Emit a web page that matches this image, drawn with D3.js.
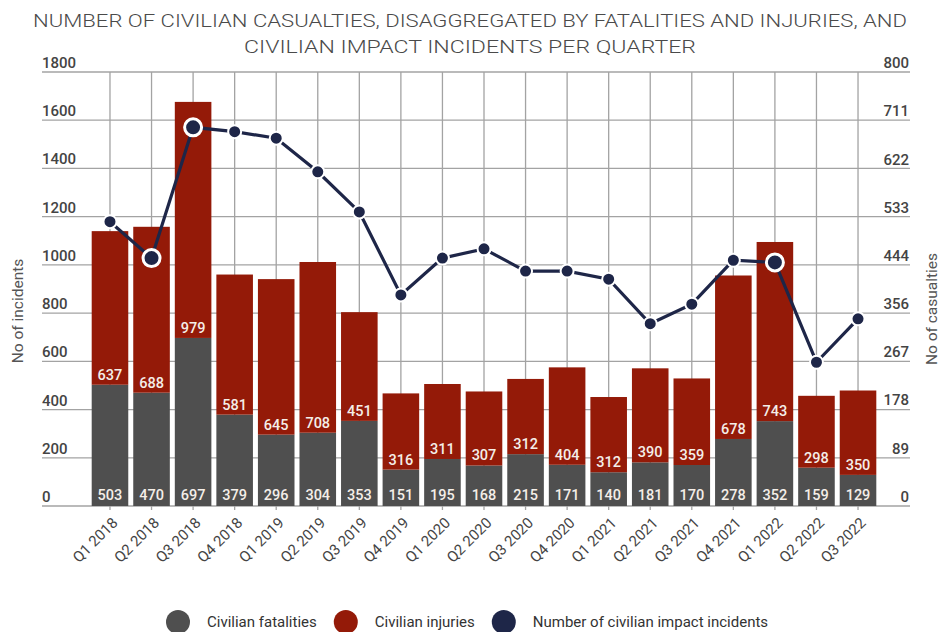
<!DOCTYPE html>
<html><head><meta charset="utf-8">
<script src="https://cdn.jsdelivr.net/npm/d3@7"></script>
<style>body{margin:0;background:#fff}svg{display:block}</style>
</head><body><svg id="c" width="940" height="632"></svg>
<script>
const quarters = ["Q1 2018","Q2 2018","Q3 2018","Q4 2018","Q1 2019","Q2 2019","Q3 2019","Q4 2019","Q1 2020","Q2 2020","Q3 2020","Q4 2020","Q1 2021","Q2 2021","Q3 2021","Q4 2021","Q1 2022","Q2 2022","Q3 2022"];
const fatalities = [503,470,697,379,296,304,353,151,195,168,215,171,140,181,170,278,352,159,129];
const injuries = [637,688,979,581,645,708,451,316,311,307,312,404,312,390,359,678,743,298,350];
const incidents = [524,457,698,690,678,616,542,389,457,474,433,433,418,336,372,453,449,265,345];
const leftTicks = [0,200,400,600,800,1000,1200,1400,1600,1800];
const rightTicks = [0,89,178,267,356,444,533,622,711,800];
const titleLines = ["NUMBER OF CIVILIAN CASUALTIES, DISAGGREGATED BY FATALITIES AND INJURIES, AND","CIVILIAN IMPACT INCIDENTS PER QUARTER"];
const legendLabels = ["Civilian fatalities","Civilian injuries","Number of civilian impact incidents"];
const leftTitle = "No of incidents";
const rightTitle = "No of casualties";

const C_FAT = "#4f4f4f", C_INJ = "#941a08", C_LINE = "#1e2648", C_TXT = "#444";
const FONT = "Roboto, 'Liberation Sans', sans-serif";

const svg = d3.select("#c");
const x = d3.scaleBand().domain(quarters).range([89.2, 878.8]).paddingInner(0.12).paddingOuter(0.06);
const yL = d3.scaleLinear().domain([0,1800]).range([506,72]);
const yR = d3.scaleLinear().domain([0,800]).range([506,72]);
const cx = q => x(q) + x.bandwidth()/2;

// title
svg.append("g").selectAll("text").data(titleLines).join("text")
  .attr("x", 470).attr("y", (d,i)=> 27 + i*26)
  .attr("text-anchor","middle").attr("font-family",FONT).attr("font-size",18.5)
  .attr("font-weight",300).attr("fill","#4a4a4a")
  .attr("textLength",(d,i)=> i===0 ? 874 : 452).attr("lengthAdjust","spacingAndGlyphs")
  .text(d=>d);

// gridlines
const grid = svg.append("g").attr("stroke","#a3a3a3").attr("stroke-width",1.3);
grid.selectAll("line.h").data(leftTicks).join("line").attr("class","h")
  .attr("x1",42).attr("x2",910).attr("y1",d=>yL(d)).attr("y2",d=>yL(d));
grid.selectAll("line.v").data(quarters).join("line").attr("class","v")
  .attr("x1",cx).attr("x2",cx).attr("y1",yL(1800)).attr("y2",yL(0)+4);

// tick labels
svg.append("g").selectAll("text").data(leftTicks).join("text")
  .attr("x",42).attr("y",d=>yL(d)-4).attr("font-family",FONT).attr("font-size",15)
  .attr("font-weight",500).attr("fill",C_TXT).text(d=>d);
svg.append("g").selectAll("text").data(rightTicks).join("text")
  .attr("x",909).attr("y",d=>yR(d)-4).attr("text-anchor","end").attr("font-family",FONT).attr("font-size",15)
  .attr("font-weight",500).attr("fill",C_TXT).text(d=>d);

// axis titles
svg.append("text").attr("transform","translate(23,311) rotate(-90)").attr("text-anchor","middle")
  .attr("font-family",FONT).attr("font-size",15.5).attr("fill","#555").text(leftTitle);
svg.append("text").attr("transform","translate(937,309) rotate(-90)").attr("text-anchor","middle")
  .attr("font-family",FONT).attr("font-size",15.5).attr("fill","#555").text(rightTitle);

// bars
const bars = svg.append("g");
bars.selectAll("rect.f").data(quarters).join("rect").attr("class","f")
  .attr("x",d=>x(d)).attr("width",x.bandwidth())
  .attr("y",(d,i)=>yL(fatalities[i])).attr("height",(d,i)=>yL(0)-yL(fatalities[i]))
  .attr("fill",C_FAT);
bars.selectAll("rect.i").data(quarters).join("rect").attr("class","i")
  .attr("x",d=>x(d)).attr("width",x.bandwidth())
  .attr("y",(d,i)=>yL(fatalities[i]+injuries[i])).attr("height",(d,i)=>yL(fatalities[i])-yL(fatalities[i]+injuries[i]))
  .attr("fill",C_INJ);

// bar labels
const lab = svg.append("g").attr("font-family",FONT).attr("font-size",14.5).attr("font-weight",500)
  .attr("fill","#f4eee8").attr("text-anchor","middle");
lab.selectAll("text.f").data(quarters).join("text").attr("class","f")
  .attr("x",cx).attr("y",yL(0)-6).text((d,i)=>fatalities[i]);
lab.selectAll("text.i").data(quarters).join("text").attr("class","i")
  .attr("x",cx).attr("y",(d,i)=>yL(fatalities[i])-5).text((d,i)=>injuries[i]);

// x labels
svg.append("g").selectAll("text").data(quarters).join("text")
  .attr("transform",d=>`translate(${cx(d)+5},${520}) rotate(-45)`)
  .attr("text-anchor","end").attr("dy","0.35em").attr("font-family",FONT).attr("font-size",15)
  .attr("fill",C_TXT).text(d=>d);

// line
const line = d3.line().x((d,i)=>cx(quarters[i])).y(d=>yR(d));
svg.append("path").datum(incidents).attr("d",line).attr("fill","none")
  .attr("stroke",C_LINE).attr("stroke-width",3.2);
const inside = i => yR(incidents[i]) > yL(fatalities[i]+injuries[i]);
svg.append("g").selectAll("circle").data(incidents).join("circle")
  .attr("cx",(d,i)=>cx(quarters[i])).attr("cy",d=>yR(d))
  .attr("r",(d,i)=> inside(i) ? 8.5 : 6.5)
  .attr("fill",C_LINE).attr("stroke","#fff").attr("stroke-width",(d,i)=> inside(i) ? 3 : 2);

// legend
const leg = svg.append("g");
let lx = 178;
const legColors = [C_FAT, C_INJ, C_LINE];
legendLabels.forEach((t,i)=>{
  leg.append("circle").attr("cx",lx).attr("cy",622).attr("r",12).attr("fill",legColors[i]);
  const tx = leg.append("text").attr("x",lx+29).attr("y",627).attr("font-family",FONT).attr("font-size",15)
    .attr("fill","#333").text(t);
  const w = tx.node().getComputedTextLength();
  lx = lx + 29 + w + 29;
});
</script>
</body></html>
